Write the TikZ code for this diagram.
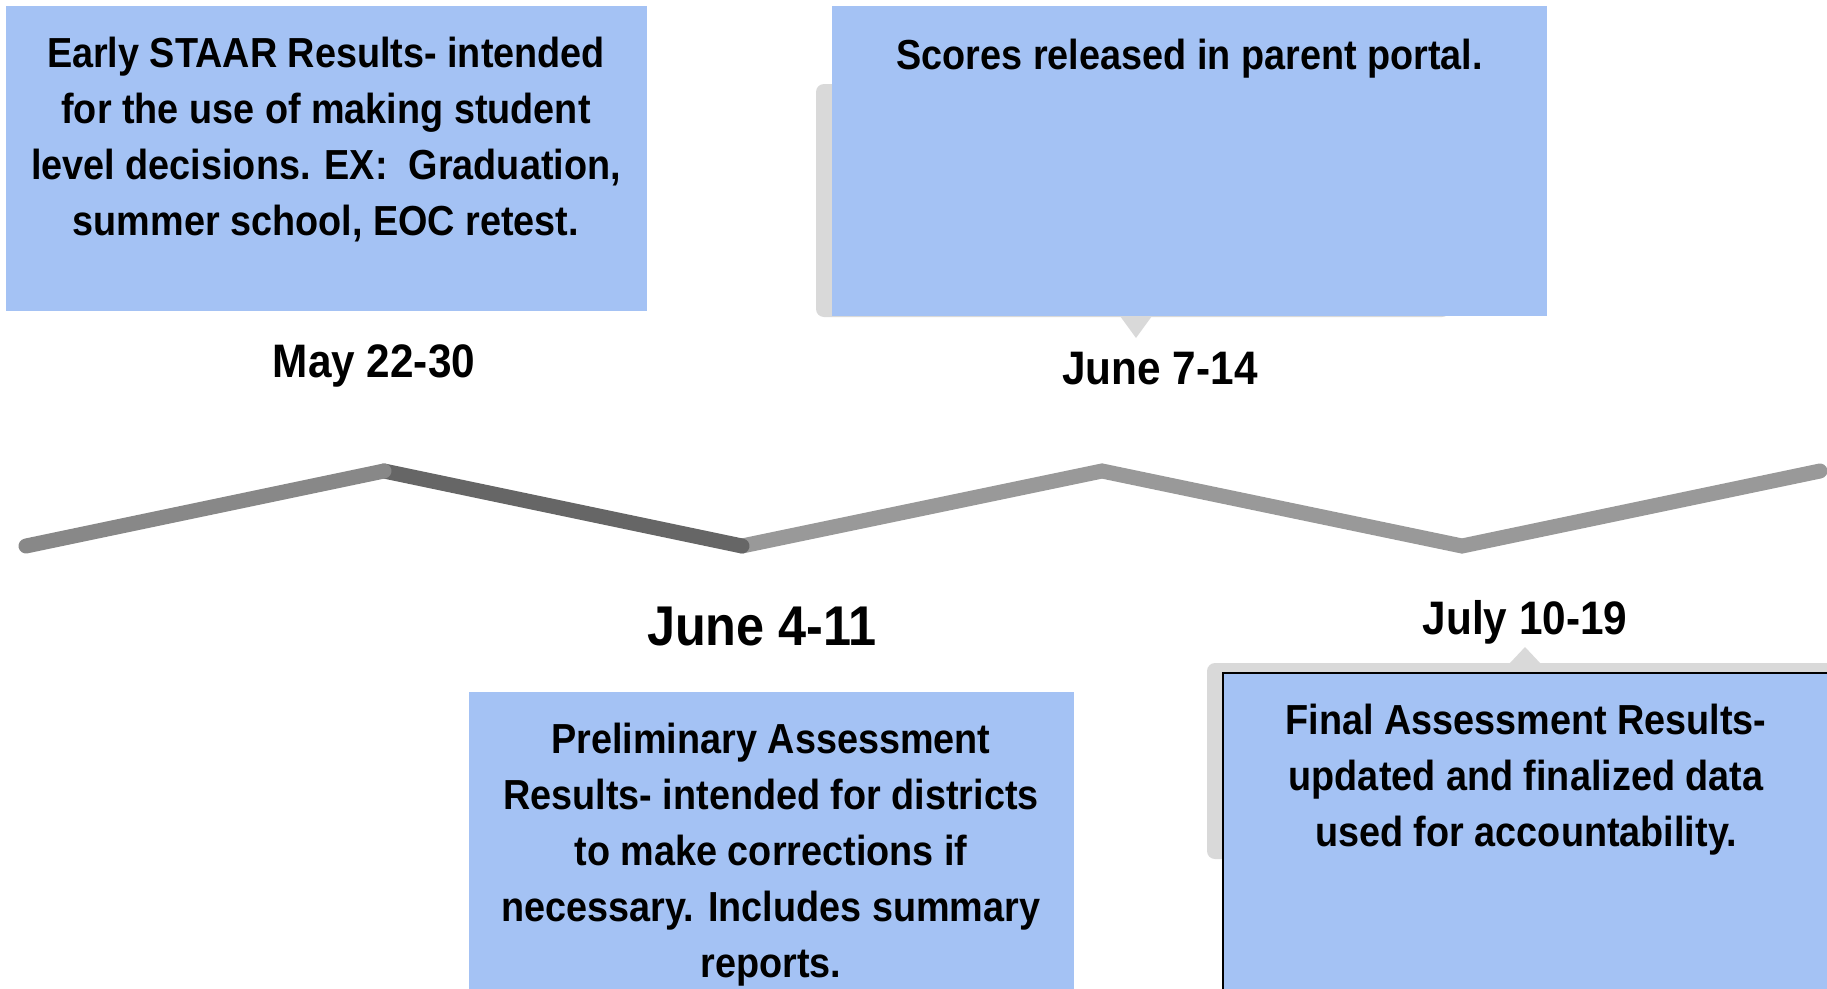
\documentclass[tikz,border=0pt]{standalone}
\usepackage{fontspec}
\setmainfont{Liberation Sans}[FakeStretch=0.9]
\usepackage{xcolor}
\usetikzlibrary{positioning}
\definecolor{cardblue}{HTML}{A4C2F4}
\definecolor{shadowgray}{HTML}{D9D9D9}
\definecolor{lineA}{HTML}{888888}
\definecolor{lineB}{HTML}{666666}
\definecolor{lineC}{HTML}{999999}

\begin{document}
\begin{tikzpicture}[x=1pt, y=-1pt]
% Define styles
\tikzstyle{card} = [rectangle, fill=cardblue, inner sep=0pt, anchor=north west]
\tikzstyle{cardtext} = [align=center, inner sep=0pt, font=\bfseries\fontsize{42}{56}\selectfont]
\tikzstyle{datetext} = [inner sep=0pt, font=\bfseries\fontsize{47}{54}\selectfont]
\tikzstyle{shadow} = [fill=shadowgray, rounded corners=8pt]
\tikzstyle{seg} = [line width=15pt, line cap=round]

\useasboundingbox (0,0) rectangle (1827,988);

% Shadows and pointers
\fill[shadow] (816,84) rectangle (1450,317);
\fill[shadowgray] (1120,316) -- (1152,316) -- (1136,338) -- cycle;
\fill[shadow] (1207,663) rectangle (1900,859);
\fill[shadowgray] (1509,664) -- (1541,664) -- (1525,647) -- cycle;

% Cards
\node (early) [card, minimum width=641pt, minimum height=305pt] at (6,6) {};
\node (scores) [card, minimum width=715pt, minimum height=310pt] at (832,6) {};
\node (prelim) [card, minimum width=605pt, minimum height=320pt] at (469,692) {};
\node (final) [card, draw=black, line width=1.5pt, minimum width=640pt, minimum height=340pt] at (1222,672) {};

% Card texts
\node (earlytxt) [cardtext] at (326,140) {Early STAAR Results- intended\\ for the use of making student\\ level decisions. EX:\ \ Graduation,\\ summer school, EOC retest.};
\node (scorestxt) [cardtext, below=33pt of scores.north] {Scores released in parent portal.};
\node (prelimtxt) [cardtext] at (771,855) {Preliminary Assessment\\ Results- intended for districts\\ to make corrections if\\ necessary. Includes summary\\ reports.};
\node (finaltxt) [cardtext] at (1526,780) {Final Assessment Results-\\ updated and finalized data\\ used for accountability.};

% Dates
\node (may) [datetext] at (374,366) {May 22-30};
\node (junea) [datetext] at (1160,369) {June 7-14};
\node (juneb) [datetext, font=\bfseries\fontsize{56}{64}\selectfont] at (762,626) {June 4-11};
\node (july) [datetext] at (1525,622) {July 10-19};

% Timeline
\coordinate (z0) at (26,546);
\coordinate (z1) at (384,471);
\coordinate (z2) at (742,546);
\coordinate (z3) at (1102,471);
\coordinate (z4) at (1462,546);
\coordinate (z5) at (1820,471);
\draw[seg, draw=lineC] (z2) -- (z3) -- (z4) -- (z5);
\draw[seg, draw=lineB] (z1) -- (z2);
\draw[seg, draw=lineA] (z0) -- (z1);

\end{tikzpicture}
\end{document}
